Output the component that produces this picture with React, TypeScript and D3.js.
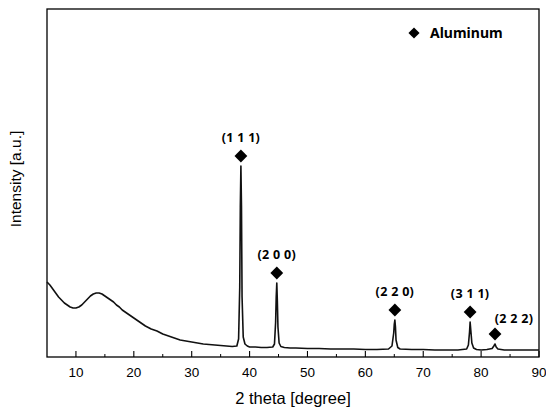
import { useEffect, useRef } from "react";
import * as d3 from "d3";

// XRD pattern: 2-theta (degree) and intensity (a.u.)
const twoTheta = [
  5, 5.5, 6, 6.5, 7, 7.5, 8, 8.5, 9, 9.5, 10, 10.5, 11, 11.5, 12, 12.5, 13, 13.5, 14, 14.5,
  15, 15.5, 16, 16.5, 17, 17.5, 18, 19, 20, 21, 22, 23, 24, 25, 26, 27, 28, 29, 30, 31, 32,
  33, 34, 35, 36, 37, 37.8, 38.1, 38.3, 38.4, 38.5, 38.6, 38.7, 38.9, 39.2, 39.6, 40, 41, 42,
  43, 44, 44.3, 44.5, 44.6, 44.7, 44.8, 44.9, 45.1, 45.4, 46, 47, 48, 50, 52, 54, 56, 58,
  60, 62, 64, 64.6, 64.9, 65, 65.1, 65.2, 65.3, 65.6, 66, 68, 70, 72, 74, 76, 77.5, 77.8,
  78, 78.1, 78.2, 78.4, 78.7, 79.2, 80, 81, 81.9, 82.2, 82.4, 82.6, 82.9, 84, 86, 88, 90,
];
const intensity = [
  75, 72, 68, 64, 60, 57, 54, 52, 50, 49, 49, 50, 52, 55, 58, 61, 63, 64, 64, 63,
  61, 59, 57, 55, 52, 50, 47, 43, 39, 35, 31, 28, 26, 23, 21, 19, 17, 16, 15, 14, 13,
  12.5, 12, 11.5, 11, 10.5, 11, 18, 70, 150, 191, 150, 60, 20, 13, 11, 10, 10, 9.5,
  9.5, 10, 13, 35, 60, 74, 55, 30, 14, 10.5, 9.5, 9, 9, 8.5, 8.5, 8, 8, 8,
  7.5, 7.5, 8, 11, 24, 33, 37, 30, 17, 9.5, 8, 7.5, 7.5, 7, 7, 7, 8, 12,
  25, 35, 28, 14, 9, 7.5, 7, 7.5, 8.5, 11, 13, 10, 8, 7, 7, 7, 7,
];

// Aluminum reflections
const peakTheta = [38.5, 44.7, 65.1, 78.1, 82.4];
const peakHeight = [191, 74, 37, 35, 13];
const peakLabels = ["(1 1 1)", "(2 0 0)", "(2 2 0)", "(3 1 1)", "(2 2 2)"];

const xTicks = [10, 20, 30, 40, 50, 60, 70, 80, 90];
const xMinorTicks = [15, 25, 35, 45, 55, 65, 75, 85];
const legendLabel = "Aluminum";

export default function App() {
  const ref = useRef<SVGSVGElement>(null);
  const width = 546;
  const height = 409;
  const m = { top: 9, right: 7, bottom: 52, left: 47 };

  useEffect(() => {
    if (!ref.current) return;
    const svg = d3.select(ref.current);
    svg.selectAll("*").remove();

    const x = d3.scaleLinear().domain([5, 90]).range([m.left, width - m.right]);
    const y = d3.scaleLinear().domain([0, 348]).range([height - m.bottom, m.top]);
    const bottom = height - m.bottom;

    // frame
    svg.append("rect")
      .attr("x", m.left).attr("y", m.top)
      .attr("width", width - m.left - m.right)
      .attr("height", bottom - m.top)
      .attr("fill", "none").attr("stroke", "#000").attr("stroke-width", 1.3);

    // inward ticks
    svg.append("g").selectAll("line.major").data(xTicks).join("line")
      .attr("x1", (d) => x(d)).attr("x2", (d) => x(d))
      .attr("y1", bottom).attr("y2", bottom - 6)
      .attr("stroke", "#000").attr("stroke-width", 1.1);
    svg.append("g").selectAll("line.minor").data(xMinorTicks).join("line")
      .attr("x1", (d) => x(d)).attr("x2", (d) => x(d))
      .attr("y1", bottom).attr("y2", bottom - 3)
      .attr("stroke", "#000").attr("stroke-width", 1);

    svg.append("g").selectAll("text").data(xTicks).join("text")
      .attr("x", (d) => x(d)).attr("y", bottom + 20)
      .attr("text-anchor", "middle")
      .style("font-family", "'Liberation Sans', Arial, sans-serif")
      .style("font-size", "13.5px")
      .attr("fill", "#000")
      .text((d) => d);

    svg.append("text")
      .attr("x", (m.left + width - m.right) / 2).attr("y", bottom + 47)
      .attr("text-anchor", "middle")
      .style("font-family", "'Liberation Sans', Arial, sans-serif")
      .style("font-size", "16.5px")
      .text("2 theta [degree]");

    svg.append("text")
      .attr("transform", `translate(21, ${(m.top + bottom) / 2 - 4}) rotate(-90)`)
      .attr("text-anchor", "middle")
      .style("font-family", "'Liberation Sans', Arial, sans-serif")
      .style("font-size", "15.5px")
      .text("Intensity [a.u.]");

    // pattern
    const pts: [number, number][] = twoTheta.map((t, i) => [t, intensity[i]]);
    const line = d3.line<[number, number]>()
      .x((d) => x(d[0]))
      .y((d) => y(d[1]));
    svg.append("path")
      .attr("d", line(pts))
      .attr("fill", "none")
      .attr("stroke", "#111")
      .attr("stroke-width", 1.6)
      .attr("stroke-linejoin", "round");

    // peak markers
    const diamond = d3.symbol().type(d3.symbolSquare).size(82);
    const labelFont = "'Noto Sans', 'DejaVu Sans', sans-serif";
    peakTheta.forEach((t, i) => {
      const cx = x(t);
      const cy = y(peakHeight[i]) - 10;
      svg.append("path")
        .attr("d", diamond())
        .attr("transform", `translate(${cx}, ${cy}) rotate(45)`)
        .attr("fill", "#000");
      const last = i === peakTheta.length - 1;
      svg.append("text")
        .attr("x", cx + (last ? 19 : 0))
        .attr("y", cy - (last ? 11 : 14))
        .attr("text-anchor", "middle")
        .style("font-family", labelFont)
        .style("font-size", "12.5px")
        .style("font-weight", "bold")
        .style("letter-spacing", "0.3px")
        .text(peakLabels[i]);
    });

    // legend
    svg.append("path")
      .attr("d", d3.symbol().type(d3.symbolSquare).size(62)())
      .attr("transform", `translate(414, 33) rotate(45)`)
      .attr("fill", "#000");
    svg.append("text")
      .attr("x", 430).attr("y", 38)
      .style("font-family", labelFont)
      .style("font-size", "14px")
      .style("font-weight", "bold")
      .text(legendLabel);
  }, []);

  return (
    <svg
      ref={ref}
      width={width}
      height={height}
      style={{ position: "absolute", left: 0, top: 0, background: "#fff" }}
    />
  );
}
